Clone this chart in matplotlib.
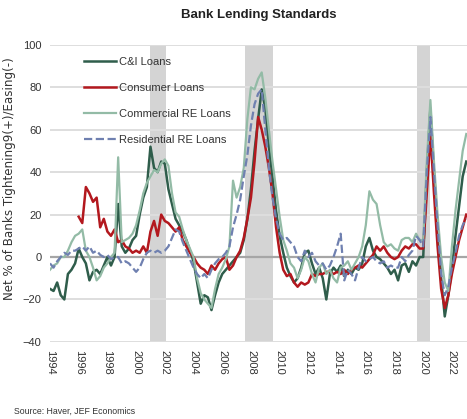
import numpy as np
import matplotlib
matplotlib.use("Agg")
import matplotlib.pyplot as plt

plt.rcParams["font.family"] = ["Liberation Sans", "DejaVu Sans"]

# Quarterly survey readings, 1994Q1 .. 2023Q1
cni = [
    -15, -16, -12, -18,  -20, -8, -6, -3,  4, 0, -3, -11,  -7, -6, -8, -4,
    0, -4, 0, 25,  5, 2, 4, 8,  10, 20, 28, 33,  52, 42, 40, 45,
    44, 32, 25, 18,  15, 12, 8, 3,  -2, -12, -22, -18,  -19, -25, -18, -12,
    -8, -6, -4, -2,  0, 2, 8, 18,  32, 50, 65, 79,  70, 52, 38, 22,
    10, 2, -5, -9,  -12, -10, -5, 2,  3, -3, -8, -5,  -10, -20, -8, -5,
    -7, -4, -9, -6,  -8, -5, -6, -3,  5, 9, 3, 0,  -1, -3, -5, -8,
    -6, -11, -4, -3,  -7, -2, -4, 0,  0, 40, 70, 40,  15, -10, -28, -18,
    -5, 10, 24, 38,  45,
]
consumer = [
    None, None, None, None,  None, None, None, None,  19, 16, 33, 30,  26, 28, 14, 18,
    12, 10, 13, 7,  8, 5, 4, 2,  3, 2, 5, 2,  12, 17, 10, 20,
    17, 16, 14, 12,  14, 8, 5, 2,  0, -3, -5, -6,  -8, -4, -6, -3,
    -1, 0, -6, -4,  0, 3, 9, 18,  28, 45, 66, 60,  52, 42, 30, 14,
    2, -6, -9, -8,  -12, -14, -12, -13,  -12, -8, -9, -8,  -8, -7, -7, -8,
    -7, -8, -6, -8,  -6, -5, -4, -5,  -3, -1, 1, 5,  3, 5, 2, 0,
    -1, 0, 3, 5,  4, 6, 6, 4,  4, 30, 58, 30,  5, -15, -24, -18,
    -8, 0, 8, 14,  20,
]
commercial_re = [
    -6, -4, -3, 0,  0, 3, 7, 10,  11, 13, 3, 0,  -5, -11, -9, -5,
    -3, 0, 2, 47,  7, 8, 9, 11,  15, 22, 30, 35,  38, 41, 40, 44,
    46, 43, 30, 21,  19, 13, 8, 4,  0, -10, -17, -20,  -22, -24, -15, -8,
    -5, -1, 5, 36,  28, 33, 42, 65,  80, 79, 84, 87,  75, 60, 45, 32,
    19, 8, 3, -3,  -5, -10, -6, 0,  -2, -8, -12, -5,  -3, -8, -6, -10,
    -12, -5, -4, -2,  -6, -3, 0, 5,  15, 31, 27, 25,  15, 7, 5, 6,
    4, 3, 8, 9,  9, 7, 11, 8,  8, 45, 74, 45,  20, 0, -12, -16,
    5, 22, 36, 50,  58,
]
residential_re = [
    -3, -5, -2, 0,  2, 1, 3, 3,  4, 5, 3, 5,  2, 3, 1, 0,
    1, -1, 0, 0,  -3, -2, -3, -5,  -7, -5, -1, 2,  3, 2, 3, 2,
    3, 5, 9, 13,  12, 7, 3, -1,  -5, -8, -10, -8,  -10, -6, -3, -1,
    0, 2, 5, 14,  20, 27, 38, 48,  62, 72, 77, 79,  60, 42, 28, 18,
    11, 8, 9, 7,  5, 0, -2, 3,  0, 2, -2, -4,  -3, -6, -4, 0,
    5, 11, -11, -6,  -8, -11, -5, 0,  -2, -1, 0, -2,  -3, -2, -5, -4,
    -5, -5, 0, -2,  1, 3, 10, 8,  5, 40, 66, 40,  15, -8, -18, -14,
    -5, 2, 10, 15,  18,
]
dates = 1994 + np.arange(len(cni)) / 4

# Recession periods (shaded)
recessions = [(2000.95, 2002.05), (2007.6, 2009.55), (2019.6, 2020.45)]

series = [
    ("C&I Loans", cni, "#2f5d4b", "-", 1.8),
    ("Consumer Loans", consumer, "#b3181e", "-", 1.8),
    ("Commercial RE Loans", commercial_re, "#93bba6", "-", 1.6),
    ("Residential RE Loans", residential_re, "#6f80b0", "--", 1.6),
]

fig = plt.figure(figsize=(4.67, 4.19), dpi=100)
ax = fig.add_axes([0.107, 0.184, 0.893, 0.709])

for start, end in recessions:
    ax.axvspan(start, end, color="#d4d4d4", lw=0, zorder=0)

for y in range(-40, 101, 20):
    if y != 0:
        ax.axhline(y, color="#dedede", lw=1.4, zorder=1)
ax.axhline(0, color="#a6a6a6", lw=1.6, zorder=1)

for label, vals, color, ls, lw in series:
    v = np.array([np.nan if x is None else x for x in vals], dtype=float)
    ax.plot(dates, v, color=color, ls=ls, lw=lw, label=label, zorder=3)

ax.set_xlim(1994, 2023.05)
ax.set_ylim(-40, 100)
ax.set_yticks(range(-40, 101, 20))
ax.set_xticks(range(1994, 2023, 2))
ax.tick_params(axis="both", length=0, labelsize=8, colors="#333333")
ax.tick_params(axis="x", pad=6)
ax.tick_params(axis="y", pad=6)
for lab in ax.get_xticklabels():
    lab.set_rotation(270)
for s in ax.spines.values():
    s.set_visible(False)

ax.set_ylabel("Net % of Banks Tightening9(+)/Easing(-)", fontsize=8.6,
              color="#333333", family=["DejaVu Sans"])
ax.yaxis.set_label_coords(-0.082, 0.55)
ax.set_title("Bank Lending Standards", fontsize=9.5, fontweight="bold",
             color="#222222", pad=19)

leg = ax.legend(loc="upper left", bbox_to_anchor=(0.07, 0.975), frameon=False,
                fontsize=8, handlelength=2.9, labelspacing=1.45,
                handletextpad=0.3, borderaxespad=0)
for t in leg.get_texts():
    t.set_color("#333333")

fig.text(0.03, 0.012, "Source: Haver, JEF Economics", fontsize=6.3, color="#333333")

fig.savefig("out.png", dpi=100)
